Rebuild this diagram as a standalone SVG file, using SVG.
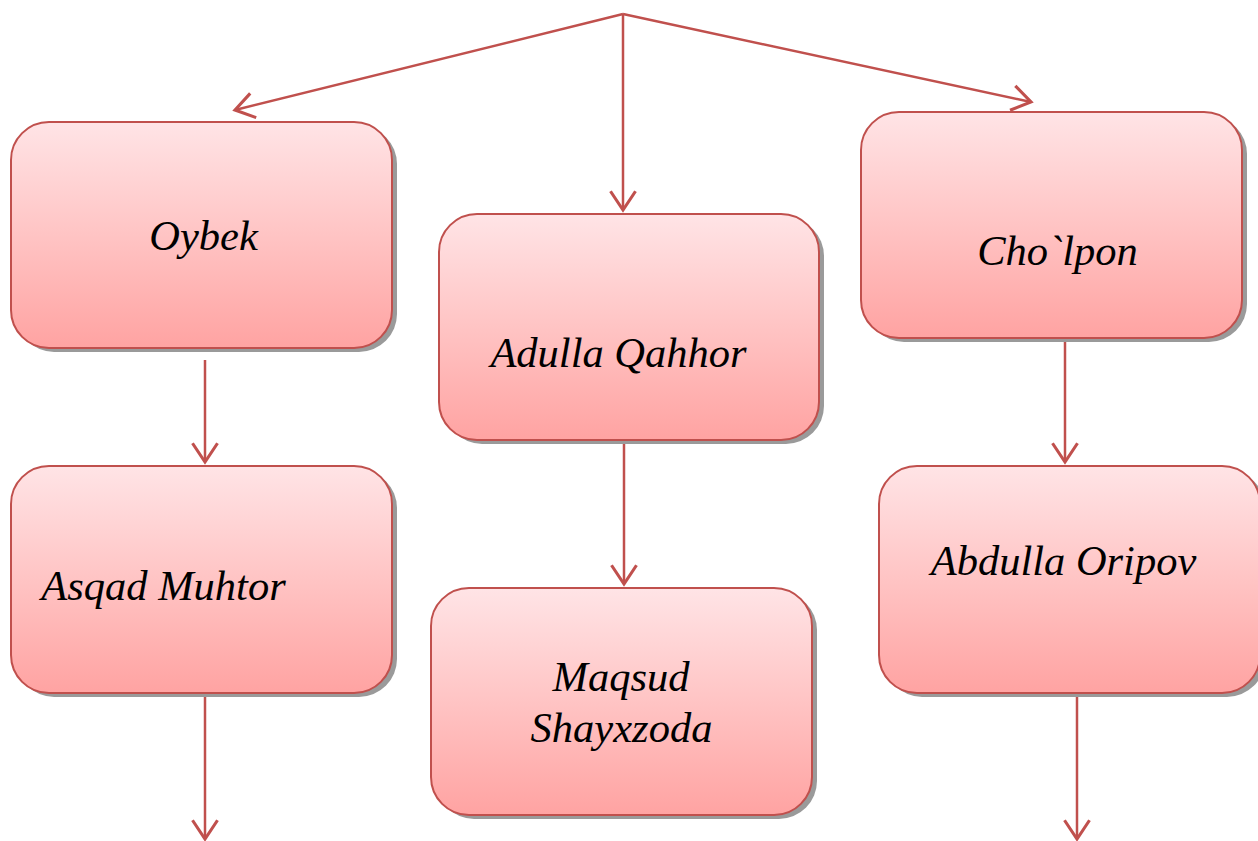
<svg xmlns="http://www.w3.org/2000/svg" width="1258" height="841" viewBox="0 0 1258 841">
  <style>
    .box { fill: url(#g); stroke: #C0504D; stroke-width: 2; }
    .shadow { fill: #9a9a9a; }
    .lbl { font-family: "Liberation Serif", "Times New Roman", serif; font-style: italic; font-size: 42.5px; fill: #000; text-anchor: middle; }
    .con { stroke: #C0504D; stroke-width: 2.5; fill: none; marker-end: url(#arr); }
  </style>
  <defs>
    <linearGradient id="g" x1="0" y1="0" x2="0" y2="1">
      <stop offset="0" stop-color="#FFE4E6"/>
      <stop offset="0.5" stop-color="#FFC4C4"/>
      <stop offset="1" stop-color="#FFA3A2"/>
    </linearGradient>
    <marker id="arr" markerUnits="userSpaceOnUse" markerWidth="30" markerHeight="30" viewBox="-16 -12 20 24" refX="0" refY="0" orient="auto">
      <path d="M-15,-10 L0,0 L-15,10" fill="none" stroke="#C0504D" stroke-width="2.5"/>
    </marker>
  </defs>

  <g id="connectors">
    <line class="con" x1="623" y1="14" x2="235" y2="110"/>
    <line class="con" x1="623" y1="14" x2="623" y2="210"/>
    <line class="con" x1="623" y1="14" x2="1031" y2="102"/>
    <line class="con" x1="205" y1="360" x2="205" y2="462"/>
    <line class="con" x1="1065" y1="338" x2="1065" y2="462"/>
    <line class="con" x1="624" y1="440" x2="624" y2="584"/>
    <line class="con" x1="205" y1="693" x2="205" y2="839"/>
    <line class="con" x1="1077" y1="693" x2="1077" y2="839"/>
  </g>

  <g id="oybek">
    <rect class="shadow" x="16" y="126" width="381" height="226" rx="38"/>
    <rect class="box" x="11" y="122" width="381" height="226" rx="38"/>
    <text class="lbl" x="203.5" y="250">Oybek</text>
  </g>

  <g id="adulla-qahhor">
    <rect class="shadow" x="444" y="218" width="380" height="226" rx="38"/>
    <rect class="box" x="439" y="214" width="380" height="226" rx="38"/>
    <text class="lbl" x="618.5" y="367">Adulla Qahhor</text>
  </g>

  <g id="cholpon">
    <rect class="shadow" x="866" y="116" width="381" height="226" rx="38"/>
    <rect class="box" x="861" y="112" width="381" height="226" rx="38"/>
    <text class="lbl" x="1057.5" y="265">Cho`lpon</text>
  </g>

  <g id="asqad-muhtor">
    <rect class="shadow" x="16" y="470" width="381" height="227" rx="38"/>
    <rect class="box" x="11" y="466" width="381" height="227" rx="38"/>
    <text class="lbl" x="163.5" y="600">Asqad Muhtor</text>
  </g>

  <g id="maqsud-shayxzoda">
    <rect class="shadow" x="436" y="592" width="381" height="227" rx="38"/>
    <rect class="box" x="431" y="588" width="381" height="227" rx="38"/>
    <text class="lbl" x="621" y="691">Maqsud</text>
    <text class="lbl" x="621.5" y="742">Shayxzoda</text>
  </g>

  <g id="abdulla-oripov">
    <rect class="shadow" x="884" y="470" width="381" height="227" rx="38"/>
    <rect class="box" x="879" y="466" width="381" height="227" rx="38"/>
    <text class="lbl" x="1063.5" y="575">Abdulla Oripov</text>
  </g>
</svg>
